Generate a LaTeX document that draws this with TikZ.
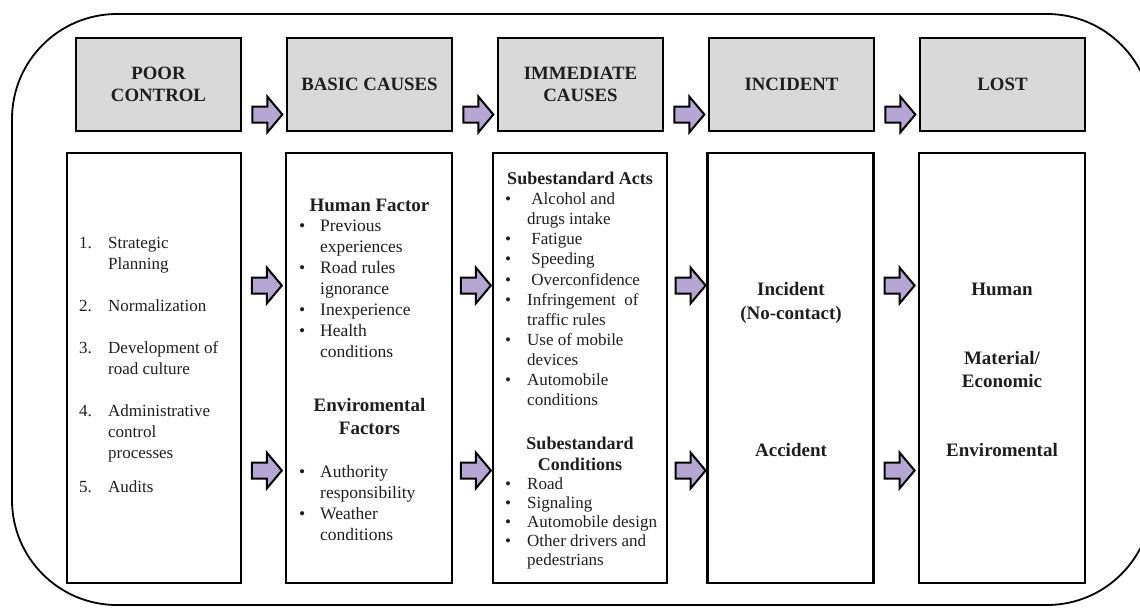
\documentclass[tikz,border=0pt]{standalone}
\usepackage{fontspec}
\setmainfont{Liberation Serif}
\usepackage{tikz}
\usetikzlibrary{positioning, shapes.arrows, calc}

\definecolor{headgray}{RGB}{217,217,217}
\definecolor{lilac}{RGB}{182,166,212}
\definecolor{inkgray}{RGB}{30,30,30}

\newcommand{\blt}[1]{\makebox[#1][l]{\textbullet}}
\newcommand{\num}[1]{\makebox[29pt][l]{#1}}

\begin{document}
\begin{tikzpicture}[x=1pt, y=-1pt, node distance=211pt, on grid,
  head/.style={draw, line width=2.4pt, fill=headgray, minimum width=165pt, minimum height=93pt,
    align=center, text=inkgray, font=\fontsize{18.8}{22}\selectfont\bfseries},
  panel/.style={draw, line width=2.4pt, minimum width=166pt, minimum height=430pt},
  flow/.style={single arrow, draw, line width=2pt, fill=lilac, minimum height=30pt, minimum width=34pt,
    inner xsep=0pt, inner ysep=7pt, single arrow head extend=10pt, single arrow tip angle=100},
  txt/.style={inner sep=0pt, align=left, text=inkgray, font=\fontsize{17}{21}\selectfont},
  hd/.style={inner sep=0pt, align=center, text=inkgray, font=\fontsize{19}{23}\selectfont\bfseries}]
  \useasboundingbox (0,0) rectangle (1140,608);
  \begin{scope}
    \clip (0,0) rectangle (1140,608);
    \draw[line width=1.8pt, rounded corners=105pt] (12,14) rectangle (1152,605);
  \end{scope}

  % stage headers
  \node[head] (poor) at (158.5,84.5) {POOR\\CONTROL};
  \node[head] (basic) [right=of poor] {BASIC CAUSES};
  \node[head] (immediate) [right=of basic] {IMMEDIATE\\CAUSES};
  \node[head] (incident) [right=of immediate] {INCIDENT};
  \node[head] (lost) [right=of incident] {LOST};

  % stage contents
  \node[panel, minimum width=174pt] (poorbox) at (154,368) {};
  \node[panel] (basicbox) at (369,368) {};
  \node[panel, minimum width=174pt] (immbox) at (580,368) {};
  \node[panel] (incbox) at (790.5,368) {};
  \node[panel] (lostbox) at (1002,368) {};

  % arrows between headers
  \node[flow] (ha1) at ($(poor.east)!0.5!(basic.west)$) [yshift=-30pt] {};
  \node[flow] (ha2) at ($(basic.east)!0.5!(immediate.west)$) [yshift=-30pt] {};
  \node[flow] (ha3) at ($(immediate.east)!0.5!(incident.west)$) [yshift=-30pt] {};
  \node[flow] (ha4) at ($(incident.east)!0.5!(lost.west)$) [yshift=-30pt] {};

  % arrows between contents
  \node[flow] (ua1) at ($(poorbox.east)!0.5!(basicbox.west)$) [yshift=82.5pt] {};
  \node[flow] (la1) at ($(poorbox.east)!0.5!(basicbox.west)$) [yshift=-102.5pt] {};
  \node[flow] (ua2) at ($(basicbox.east)!0.5!(immbox.west)$) [yshift=82.5pt] {};
  \node[flow] (la2) at ($(basicbox.east)!0.5!(immbox.west)$) [yshift=-102.5pt] {};
  \node[flow] (ua3) at ($(immbox.east)!0.5!(incbox.west)$) [yshift=82.5pt] {};
  \node[flow] (la3) at ($(immbox.east)!0.5!(incbox.west)$) [yshift=-102.5pt] {};
  \node[flow] (ua4) at ($(incbox.east)!0.5!(lostbox.west)$) [yshift=82.5pt] {};
  \node[flow] (la4) at ($(incbox.east)!0.5!(lostbox.west)$) [yshift=-102.5pt] {};

  % poor control
  \node[txt, anchor=north west] (controls) at (79,234) {\strut\num{1.}Strategic\\
    \hspace*{29pt}Planning\\[21pt]
    \num{2.}Normalization\\[21pt]
    \num{3.}Development of\\
    \hspace*{29pt}road culture\\[21pt]
    \num{4.}Administrative\\
    \hspace*{29pt}control\\
    \hspace*{29pt}processes\\[13pt]
    \num{5.}Audits};

  % basic causes
  \node[hd, anchor=north] (humanhead) at (369.5,195) {\strut Human Factor};
  \node[txt, anchor=north west, font=\fontsize{17.5}{21}\selectfont] (humanlist) at (299,217) {\strut\blt{21pt}Previous\\
    \hspace*{21pt}experiences\\
    \blt{21pt}Road rules\\
    \hspace*{21pt}ignorance\\
    \blt{21pt}Inexperience\\
    \blt{21pt}Health\\
    \hspace*{21pt}conditions};
  \node[hd, anchor=north] (envhead) at (369.5,395) {\strut Enviromental\\Factors};
  \node[txt, anchor=north west, font=\fontsize{17.5}{21}\selectfont] (envlist) at (299,463) {\strut\blt{21pt}Authority\\
    \hspace*{21pt}responsibility\\
    \blt{21pt}Weather\\
    \hspace*{21pt}conditions};

  % immediate causes
  \node[hd, anchor=north, font=\fontsize{18}{21}\selectfont\bfseries] (actshead) at (580,169.5) {\strut Subestandard Acts};
  \node[txt, anchor=north west, font=\fontsize{17}{20.1}\selectfont] (actslist) at (505,190.4) {\strut\blt{22pt}\ Alcohol and\\
    \hspace*{22pt}drugs intake\\
    \blt{22pt}\ Fatigue\\
    \blt{22pt}\ Speeding\\
    \blt{22pt}\ Overconfidence\\
    \blt{22pt}Infringement\ \ of\\
    \hspace*{22pt}traffic rules\\
    \blt{22pt}Use of mobile\\
    \hspace*{22pt}devices\\
    \blt{22pt}Automobile\\
    \hspace*{22pt}conditions};
  \node[hd, anchor=north, font=\fontsize{18}{21}\selectfont\bfseries] (condhead) at (580,434.5) {\strut Subestandard\\Conditions};
  \node[txt, anchor=north west, font=\fontsize{17}{19}\selectfont] (condlist) at (505,476) {\strut\blt{22pt}Road\\
    \blt{22pt}Signaling\\
    \blt{22pt}Automobile design\\
    \blt{22pt}Other drivers and\\
    \hspace*{22pt}pedestrians};

  % incident
  \node[hd, anchor=north, font=\fontsize{19}{24}\selectfont\bfseries] (nocontact) at (791,278.7) {\strut Incident\\(No-contact)};
  \node[hd, anchor=north, font=\fontsize{19}{24}\selectfont\bfseries] (accident) at (791,439.7) {\strut Accident};

  % lost
  \node[hd, anchor=north, font=\fontsize{19}{24}\selectfont\bfseries] (human) at (1002,278.7) {\strut Human};
  \node[hd, anchor=north] (material) at (1002,348.4) {\strut Material/\\Economic};
  \node[hd, anchor=north, font=\fontsize{19}{24}\selectfont\bfseries] (environment) at (1002,439.7) {\strut Enviromental};
\end{tikzpicture}
\end{document}
